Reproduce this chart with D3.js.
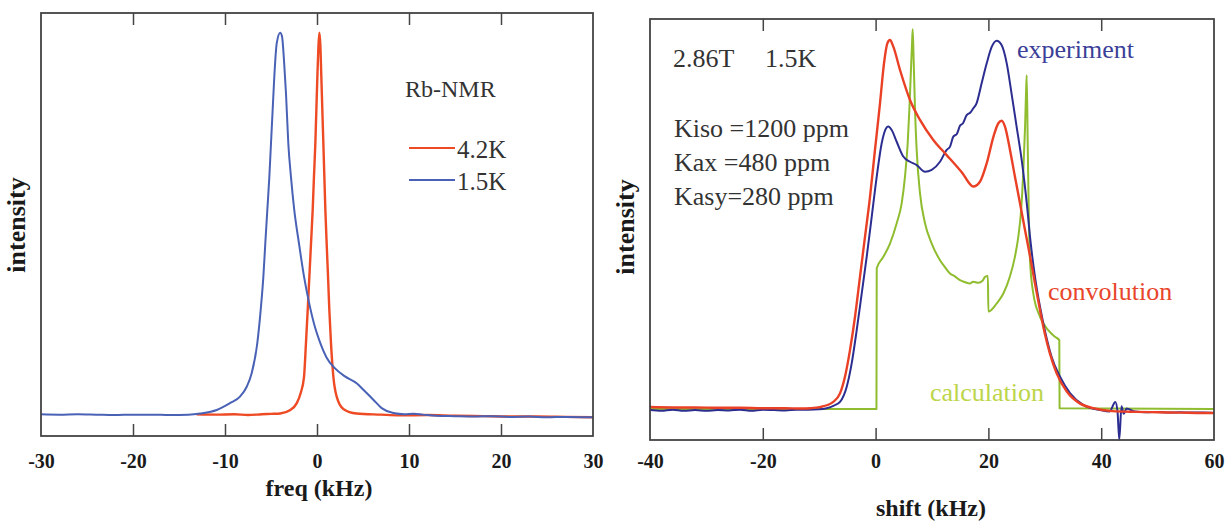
<!DOCTYPE html>
<html><head><meta charset="utf-8">
<script src="https://cdn.jsdelivr.net/npm/d3@7"></script>
<style>
html,body{margin:0;padding:0;background:#fff;}
svg{display:block;font-family:"Liberation Serif","Times New Roman",serif;}
</style>
</head><body>
<svg id="c" width="1229" height="524"></svg>
<script>
// ---------- Left panel: Rb-NMR spectra ----------
const leftTicks = [-30, -20, -10, 0, 10, 20, 30];
const leftInnerTicks = [-20, -10, 0, 10, 20];
const legendLabels = ["4.2K", "1.5K"];

const red42Freq = [-13.1, -11, -9, -7.5, -6, -5, -4.0, -2.9, -2.2, -1.78, -1.41, -1.2, -1.01, -0.83, -0.65, -0.47, -0.33,
  -0.18, -0.07, 0.04, 0.14, 0.25, 0.36, 0.47, 0.58, 0.69, 0.8, 0.91, 1.05, 1.2, 1.34, 1.52, 1.78, 2.14, 2.86, 4.3, 6.9,
  9, 12, 15, 18, 21, 24, 27, 30];
const red42Int = [0.002, 0.001, 0.002, 0.000, 0.002, 0.003, 0.004, 0.013, 0.031, 0.057, 0.100, 0.188, 0.275, 0.362, 0.449, 0.536, 0.623,
  0.711, 0.798, 0.885, 0.955, 1.0, 0.97, 0.885, 0.798, 0.711, 0.623, 0.536, 0.449, 0.362, 0.275, 0.188, 0.100, 0.048, 0.016, 0.004, 0.001,
  -0.001, 0.000, -0.002, -0.003, -0.004, -0.004, -0.005, -0.006];

const blue15Freq = [-30, -28, -26, -24, -22, -20, -18, -16, -14, -12.7, -10.9, -9.46, -8.37, -7.64, -7.1, -6.49, -6.12, -5.83, -5.62, -5.4,
  -5.18, -5.0, -4.82, -4.64, -4.38, -4.0, -3.8, -3.59, -3.37, -3.12, -2.83, -2.47, -1.96, -1.41, -0.83, -0.2, 0.33, 1.05, 1.96, 3.04,
  4.31, 5.04, 6.12, 7.03, 8.3, 9.5, 10.5, 11.5, 13, 15, 17, 19, 21, 23, 25, 27, 30];
const blue15Int = [0.002, 0.001, 0.002, 0.001, 0.000, 0.001, 0.001, 0.000, 0.001, 0.004, 0.013, 0.031, 0.048, 0.074, 0.109, 0.188, 0.275, 0.362, 0.449, 0.536,
  0.623, 0.711, 0.798, 0.885, 0.972, 1.0, 0.99, 0.929, 0.841, 0.711, 0.623, 0.536, 0.449, 0.362, 0.290, 0.228, 0.190, 0.150, 0.122, 0.101,
  0.083, 0.066, 0.040, 0.018, 0.005, 0.002, 0.003, 0.001, -0.002, -0.003, -0.004, -0.003, -0.005, -0.004, -0.006, -0.005, -0.006];

// ---------- Right panel: 2.86T 1.5K spectrum ----------
const rightTicks = [-40, -20, 0, 20, 40, 60];
const rightInnerTicks = [-20, 0, 20, 40];
const paramLines = ["Kiso =1200 ppm", "Kax =480 ppm", "Kasy=280 ppm"];

const expShift = [-40, -38, -36, -34, -32, -30, -28, -26, -24, -22, -20, -18, -16, -14, -12, -10,
  -8.67, -7.4, -6.31, -5.12, -4.24, -3.35, -2.46, -1.58, -0.69, 0.2, 1.08, 1.84, 2.25, 2.85, 3.74, 4.91, 6.1, 7.29, 8.76,
  9.95, 11.42, 12.6, 13.2, 13.78, 14.4, 14.96, 15.5, 16.15, 16.8, 17.3, 17.9, 18.8, 19.7, 20.6, 21.47, 22.36, 23.25, 24.1, 25.0,
  25.9, 26.8, 27.5, 28.26, 29.15, 30.0, 31.2, 32.7, 34.5, 36.8, 39.8, 41.5, 42.5, 42.9, 43.2, 43.6, 44.0, 44.5, 46, 48,
  50, 52, 54, 56, 58, 60];
const expInt = [0.000, -0.002, 0.001, -0.002, 0.000, -0.002, 0.000, -0.001, 0.001, -0.002, 0.001, 0.000, -0.001, 0.001, 0.001, 0.002,
  0.005, 0.012, 0.022, 0.063, 0.126, 0.216, 0.315, 0.414, 0.522, 0.631, 0.721, 0.761, 0.766, 0.757, 0.725, 0.685, 0.671, 0.662, 0.644,
  0.649, 0.671, 0.703, 0.712, 0.739, 0.746, 0.768, 0.775, 0.797, 0.804, 0.815, 0.829, 0.883, 0.937, 0.982, 0.998, 0.986, 0.937, 0.856, 0.766,
  0.676, 0.559, 0.451, 0.36, 0.279, 0.216, 0.144, 0.09, 0.045, 0.014, 0.0, -0.004, 0.022, -0.005, -0.08, 0.01, -0.01, 0.004, -0.004, -0.006,
  -0.005, -0.007, -0.006, -0.007, -0.007, -0.008];

const convShift = [-40, -36, -32, -28, -24, -20, -16, -13.4, -11.5, -9.86, -7.5, -6.31, -5.43, -4.54, -3.65, -2.77, -1.88, -0.99, -0.11, 0.78,
  1.49, 2.08, 2.55, 3.14, 4.33, 6.1, 7.87, 10.23, 12.6, 14.4, 15.5, 16.4, 17.3, 18.5, 19.7, 20.9, 21.76, 22.36, 22.94, 23.83,
  24.7, 25.6, 26.5, 27.4, 28.26, 29.15, 30.0, 30.9, 32.1, 33.9, 36.2, 38.6, 42, 46, 50, 54, 58, 60];
const convInt = [0.008, 0.007, 0.007, 0.006, 0.006, 0.005, 0.005, 0.004, 0.005, 0.008, 0.022, 0.045, 0.09, 0.162, 0.252, 0.36, 0.468, 0.576, 0.703, 0.829,
  0.937, 0.991, 1.0, 0.982, 0.919, 0.838, 0.784, 0.730, 0.689, 0.658, 0.638, 0.617, 0.604, 0.617, 0.667, 0.739, 0.775, 0.782, 0.766, 0.703,
  0.631, 0.559, 0.486, 0.414, 0.342, 0.270, 0.207, 0.153, 0.099, 0.05, 0.018, 0.005, -0.003, -0.005, -0.006, -0.007, -0.008, -0.008];

const calcShift = [-40, 0.15, 0.2, 1.37, 2.55, 3.74, 4.63, 5.21, 5.69, 5.98, 6.22, 6.46, 6.58, 6.75, 6.99, 7.28, 7.87, 8.76, 9.95, 11.42,
  12.2, 13.19, 14.0, 14.96, 15.8, 16.74, 17.3, 18.2, 19.0, 19.4, 19.9, 20.0, 21.47, 22.65, 23.8, 24.7, 25.3, 25.8, 26.2, 26.5,
  26.67, 26.79, 26.97, 27.15, 27.38, 27.96, 29.15, 30.6, 31.8, 32.57, 32.62, 60];
const calcInt = [0.003, 0.003, 0.383, 0.414, 0.45, 0.505, 0.559, 0.631, 0.721, 0.811, 0.901, 0.991, 1.029, 0.946, 0.811, 0.703, 0.586, 0.505, 0.45, 0.405,
  0.388, 0.369, 0.362, 0.351, 0.346, 0.342, 0.347, 0.344, 0.35, 0.36, 0.362, 0.266, 0.288, 0.315, 0.36, 0.414, 0.468, 0.54, 0.649, 0.766,
  0.856, 0.905, 0.721, 0.54, 0.405, 0.315, 0.252, 0.216, 0.198, 0.189, 0.005, 0.003];

// ---------- drawing ----------
const svg = d3.select("#c");
const zip = (xs, ys) => xs.map((x, i) => ({x: x, y: ys[i]}));

function panel(cfg) {
  const x = d3.scaleLinear().domain(cfg.xDomain).range(cfg.xRange);
  const y = d3.scaleLinear().domain(cfg.yDomain).range(cfg.yRange);
  const g = svg.append("g");
  const clipId = "clip" + cfg.id;
  svg.append("clipPath").attr("id", clipId).append("rect")
    .attr("x", cfg.xRange[0]).attr("y", cfg.yRange[1])
    .attr("width", cfg.xRange[1] - cfg.xRange[0]).attr("height", cfg.yRange[0] - cfg.yRange[1] + 1);

  const line = d3.line().x(d => x(d.x)).y(d => y(d.y)).curve(d3.curveMonotoneX);
  const lines = g.append("g").attr("clip-path", `url(#${clipId})`);
  cfg.series.forEach(s => {
    lines.append("path").datum(zip(s.xs, s.ys))
      .attr("d", line).attr("fill", "none")
      .attr("stroke", s.color).attr("stroke-width", s.width)
      .attr("stroke-linejoin", "round");
  });

  const bottom = g.append("g").attr("transform", `translate(0,${cfg.yRange[0]})`)
    .call(d3.axisBottom(x).tickValues(cfg.ticks).tickSize(-12).tickPadding(cfg.labelPad).tickFormat(d => String(d)));
  bottom.select(".domain").remove();
  bottom.selectAll(".tick line").attr("stroke", "#444").attr("stroke-width", 1.5)
    .attr("display", d => cfg.innerTicks.includes(d) ? null : "none");
  bottom.selectAll(".tick text").attr("fill", "#1a1a1a").attr("font-size", 20).attr("font-weight", "bold")
    .attr("font-family", "Liberation Serif, serif");

  const top = g.append("g").attr("transform", `translate(0,${cfg.yRange[1]})`)
    .call(d3.axisTop(x).tickValues(cfg.innerTicks).tickSize(-12).tickFormat(""));
  top.select(".domain").remove();
  top.selectAll(".tick line").attr("stroke", "#444").attr("stroke-width", 1.5);

  g.append("rect").attr("x", cfg.xRange[0]).attr("y", cfg.yRange[1])
    .attr("width", cfg.xRange[1] - cfg.xRange[0]).attr("height", cfg.yRange[0] - cfg.yRange[1])
    .attr("fill", "none").attr("stroke", "#444").attr("stroke-width", 1.8);

  g.append("text").attr("x", cfg.xTitlePos[0]).attr("y", cfg.xTitlePos[1])
    .attr("text-anchor", "middle").attr("font-size", 24).attr("font-weight", "bold").attr("fill", "#1a1a1a")
    .text(cfg.xTitle);
  g.append("text").attr("transform", `translate(${cfg.yTitlePos[0]},${cfg.yTitlePos[1]}) rotate(-90)`)
    .attr("text-anchor", "middle").attr("font-size", 26).attr("font-weight", "bold").attr("fill", "#1a1a1a")
    .text("intensity");
  return {g, x, y};
}

// Left panel
const L = panel({
  id: "L", xDomain: [-30, 30], xRange: [41, 593],
  yDomain: [-0.0549, 1.0515], yRange: [436, 13],
  ticks: leftTicks, innerTicks: leftInnerTicks, labelPad: 18,
  xTitle: "freq (kHz)", xTitlePos: [319, 496], yTitlePos: [25, 225],
  series: [
    {xs: red42Freq, ys: red42Int, color: "#ee4a24", width: 2.4},
    {xs: blue15Freq, ys: blue15Int, color: "#4a62b6", width: 2}
  ]
});
L.g.append("text").attr("x", 405).attr("y", 97).attr("font-size", 24).attr("fill", "#333").text("Rb-NMR");
const legColors = ["#ee4a24", "#4a62b6"];
legendLabels.forEach((lab, i) => {
  const ly = 148 + i * 32;
  L.g.append("line").attr("x1", 409).attr("x2", 455).attr("y1", ly).attr("y2", ly)
    .attr("stroke", legColors[i]).attr("stroke-width", 2);
  L.g.append("text").attr("x", 457).attr("y", ly + 10).attr("font-size", 25).attr("fill", "#333").text(lab);
});

// Right panel
const R = panel({
  id: "R", xDomain: [-40, 60], xRange: [650, 1214],
  yDomain: [-0.081, 1.0568], yRange: [440, 19],
  ticks: rightTicks, innerTicks: rightInnerTicks, labelPad: 14,
  xTitle: "shift (kHz)", xTitlePos: [931, 516], yTitlePos: [634, 227],
  series: [
    {xs: calcShift, ys: calcInt, color: "#8fbd2f", width: 2},
    {xs: expShift, ys: expInt, color: "#2c2d91", width: 2},
    {xs: convShift, ys: convInt, color: "#ea4025", width: 2.4}
  ]
});
R.g.append("text").attr("x", 673).attr("y", 67).attr("font-size", 26).attr("fill", "#333").text("2.86T");
R.g.append("text").attr("x", 765).attr("y", 67).attr("font-size", 26).attr("fill", "#333").text("1.5K");
paramLines.forEach((t, i) => {
  R.g.append("text").attr("x", 674).attr("y", 137 + i * 34).attr("font-size", 26).attr("fill", "#333").text(t);
});
R.g.append("text").attr("x", 1017).attr("y", 58).attr("font-size", 26).attr("fill", "#3b3f98").text("experiment");
R.g.append("text").attr("x", 1048).attr("y", 300).attr("font-size", 26).attr("fill", "#e8452a").text("convolution");
R.g.append("text").attr("x", 930).attr("y", 401).attr("font-size", 26).attr("fill", "#bcd54a").text("calculation");
</script>
</body></html>
